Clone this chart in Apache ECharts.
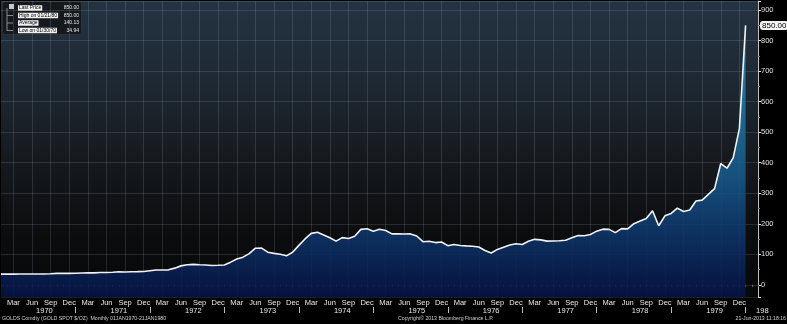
<!DOCTYPE html>
<html><head><meta charset="utf-8">
<script src="https://cdn.jsdelivr.net/npm/echarts@6/dist/echarts.min.js"></script>
<style>html,body{margin:0;padding:0;background:#000;overflow:hidden}#c{width:787px;height:324px}</style>
</head><body><div id="c"></div><script>
// ---- data ----
const monthNames = ['Jan','Feb','Mar','Apr','May','Jun','Jul','Aug','Sep','Oct','Nov','Dec'];
const years = [1970,1971,1972,1973,1974,1975,1976,1977,1978,1979];
const gold1970 = [34.94, 35.0, 35.1, 35.6, 35.5, 35.4, 35.3, 35.4, 36.2, 37.5, 37.4, 37.4];
const gold1971 = [37.9, 38.7, 38.9, 39.0, 40.5, 40.1, 41.0, 42.7, 42.0, 42.5, 43.0, 43.6];
const gold1972 = [46.0, 48.3, 48.3, 49.0, 54.6, 62.0, 65.7, 67.0, 65.5, 64.9, 63.0, 63.9];
const gold1973 = [65.1, 74.2, 84.4, 90.5, 102.0, 120.0, 120.2, 106.8, 103.0, 100.1, 94.9, 106.7];
const gold1974 = [129.2, 150.2, 168.4, 172.2, 163.3, 154.1, 143.0, 154.6, 151.8, 158.8, 181.7, 183.8];
const gold1975 = [175.8, 181.8, 178.0, 167.0, 167.0, 166.3, 166.7, 159.8, 141.3, 142.9, 138.3, 140.3];
const gold1976 = [128.2, 132.3, 128.8, 127.5, 126.5, 123.8, 112.5, 104.0, 116.0, 123.2, 130.3, 134.5];
const gold1977 = [132.3, 142.8, 148.9, 147.3, 143.0, 143.4, 144.1, 146.0, 154.1, 161.5, 160.5, 165.0];
const gold1978 = [175.8, 182.3, 181.6, 170.9, 184.2, 183.1, 200.3, 208.7, 217.1, 242.6, 193.4, 226.0];
const gold1979 = [233.7, 251.3, 240.1, 245.3, 274.6, 277.5, 296.5, 315.1, 397.3, 382.0, 415.7, 512.0];
const gold1980 = [850.0];
const prices = [].concat(gold1970, gold1971, gold1972, gold1973, gold1974, gold1975,
                         gold1976, gold1977, gold1978, gold1979, gold1980);
const quarterMonths = ['Mar','Jun','Sep','Dec'];
const legendNames = ['Last Price', 'High on 01/21/80', 'Average', 'Low on 01/30/70'];
const legendValues = ['850.00', '850.00', '140.13', '34.94'];
const footerLeft = 'GOLDS Comdty (GOLD SPOT $/OZ)  Monthly 01JAN1970-21JAN1980';
const footerMid = 'Copyright\u00A9 2013 Bloomberg Finance L.P.';
const footerRight = '21-Jun-2013 11:18:16';

// categories Jan 1970 .. Mar 1980 (axis extends slightly past the last point)
const categories = [];
for (const y of years) for (const m of monthNames) categories.push(m + ' ' + y);
for (const m of ['Jan','Feb','Mar']) categories.push(m + ' 1980');

const FONT = 'Liberation Sans, Arial, sans-serif';
const chart = echarts.init(document.getElementById('c'), null, {renderer: 'canvas'});
const mName = v => v.split(' ')[0];
const yName = v => v.split(' ')[1];

const legendGraphics = [
  {type: 'rect', shape: {x: 2.5, y: 1.5, width: 79, height: 33, r: 3},
   style: {fill: '#15191d', stroke: '#2c3238', lineWidth: 1}, silent: true},
  {type: 'rect', shape: {x: 9, y: 4, width: 5, height: 5}, style: {fill: '#c8c8c8'}, silent: true},
  {type: 'line', shape: {x1: 7, y1: 8, x2: 7, y2: 31}, style: {stroke: '#8a8a8a', lineWidth: 1}, silent: true},
];
legendNames.forEach((n, i) => {
  const yy = 8 + i * 7.5;
  if (i > 0) legendGraphics.push({type: 'line', shape: {x1: 7, y1: yy, x2: 13, y2: yy},
    style: {stroke: '#8a8a8a', lineWidth: 1}, silent: true});
  legendGraphics.push({type: 'text', x: 18, y: yy, silent: true,
    style: {text: n, fill: '#000', backgroundColor: '#f0f0f0', padding: [0.5, 1, 0, 1],
      font: '5px ' + FONT, verticalAlign: 'middle', align: 'left'}});
  legendGraphics.push({type: 'text', x: 79, y: yy, silent: true,
    style: {text: legendValues[i], fill: '#e6e6e6', font: '5px ' + FONT,
      verticalAlign: 'middle', align: 'right'}});
});
const footerGraphics = [
  {type: 'text', x: 2, y: 319, silent: true,
   style: {text: footerLeft, fill: '#d0d0d0', font: '5.2px ' + FONT, verticalAlign: 'middle', align: 'left'}},
  {type: 'text', x: 398, y: 319, silent: true,
   style: {text: footerMid, fill: '#d0d0d0', font: '5.2px ' + FONT, verticalAlign: 'middle', align: 'left'}},
  {type: 'text', x: 786, y: 319, silent: true,
   style: {text: footerRight, fill: '#d0d0d0', font: '5.2px ' + FONT, verticalAlign: 'middle', align: 'right'}},
];

chart.setOption({
  animation: false,
  backgroundColor: '#000',
  textStyle: {fontFamily: FONT},
  grid: {
    left: 1, right: 29, top: 1, bottom: 27, show: true, borderWidth: 0,
    backgroundColor: new echarts.graphic.LinearGradient(0, 0, 0, 1, [
      {offset: 0, color: '#243342'}, {offset: 0.3, color: '#1d2731'},
      {offset: 0.55, color: '#15191d'}, {offset: 0.8, color: '#0b0c0e'}, {offset: 1, color: '#070808'}
    ])
  },
  xAxis: [{
    type: 'category', data: categories, boundaryGap: false, position: 'bottom',
    axisLine: {show: false},
    axisTick: {show: true, interval: 0, length: 2, lineStyle: {color: '#777'}},
    axisLabel: {
      interval: (i, v) => quarterMonths.includes(mName(v)) && yName(v) !== '1980',
      formatter: v => mName(v), color: '#e8e8e8', fontSize: 7.5, margin: 2, fontFamily: FONT
    },
    splitLine: {show: true, interval: (i, v) => quarterMonths.includes(mName(v)),
      lineStyle: {color: 'rgba(170,190,210,0.17)', width: 1}}
  }, {
    type: 'category', data: categories, boundaryGap: false, position: 'bottom', offset: 10,
    axisLine: {show: false},
    axisTick: {show: true, interval: (i, v) => mName(v) === 'Jan' && i > 0, length: 6, lineStyle: {color: '#bbb'}},
    axisLabel: {
      interval: (i, v) => (mName(v) === 'Aug') || v === 'Feb 1980',
      formatter: v => v === 'Feb 1980' ? '{c|198}' : yName(v),
      rich: {c: {padding: [0, 0, 0, 21], fontSize: 7.5, color: '#e8e8e8', fontFamily: FONT}},
      color: '#e8e8e8', fontSize: 7.5, margin: 0, fontFamily: FONT
    },
    splitLine: {show: false}
  }],
  yAxis: {
    type: 'value', position: 'right', min: -40, max: 930, splitNumber: 10,
    axisLine: {show: true, lineStyle: {color: '#bfbfbf', width: 1}},
    axisTick: {show: true, length: 3, lineStyle: {color: '#dcdcdc'}},
    minorTick: {show: true, splitNumber: 2, length: 2, lineStyle: {color: '#888'}},
    axisLabel: {showMinLabel: false, showMaxLabel: false, color: '#e0e0e0', fontSize: 7.5, margin: 3, fontFamily: FONT},
    splitLine: {show: true, lineStyle: {color: 'rgba(170,190,210,0.17)', width: 1}}
  },
  series: [{
    type: 'line', data: prices, xAxisIndex: 0, showSymbol: false, symbol: 'none',
    lineStyle: {color: '#f2f2f2', width: 1.6},
    areaStyle: {
      origin: 'start', opacity: 0.88,
      color: new echarts.graphic.LinearGradient(0, 0, 0, 1, [
        {offset: 0, color: '#2b96c9'}, {offset: 0.3, color: '#1d73a4'},
        {offset: 0.55, color: '#165a8a'}, {offset: 0.75, color: '#0e386d'}, {offset: 1, color: '#061245'}
      ])
    },
    markLine: {
      silent: true, symbol: ['none', 'none'],
      lineStyle: {color: 'transparent', width: 0},
      data: [{yAxis: prices[prices.length - 1]}],
      label: {
        show: true, position: 'end', distance: 2,
        formatter: () => prices[prices.length - 1].toFixed(2),
        backgroundColor: '#f4f4f4', color: '#000', borderRadius: 3, padding: [1, 2, 0, 2],
        fontSize: 8, fontFamily: FONT
      }
    }
  }],
  graphic: legendGraphics.concat(footerGraphics)
});
</script></body></html>
